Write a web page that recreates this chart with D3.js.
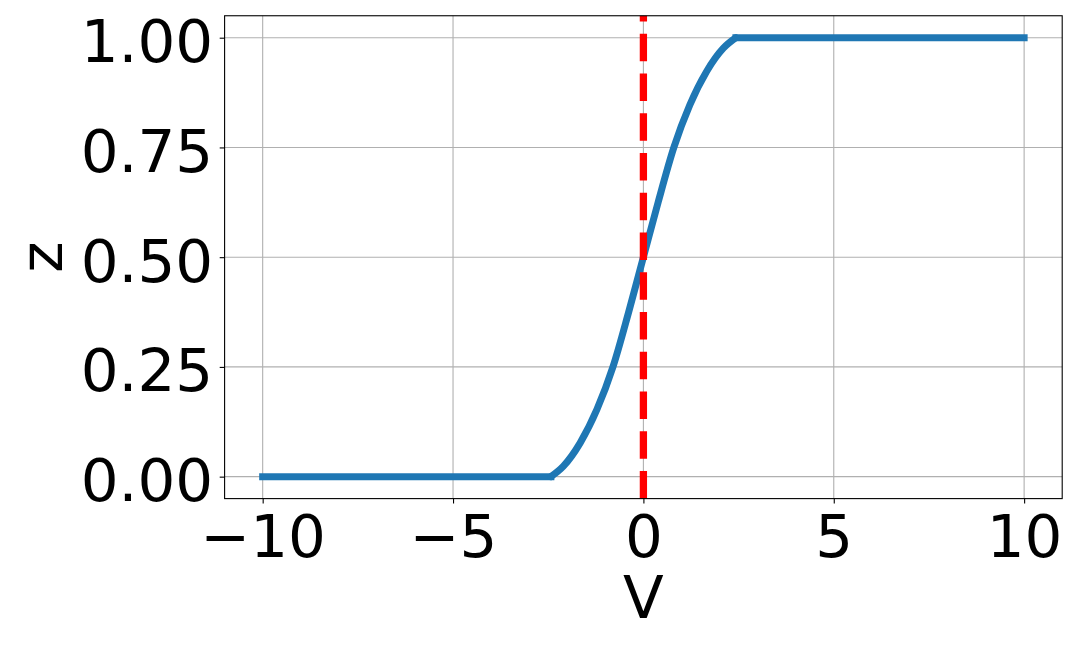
<!DOCTYPE html>
<html>
<head>
<meta charset="utf-8">
<script src="https://cdn.jsdelivr.net/npm/d3@7"></script>
<style>
  body { margin: 0; background: #fff; }
  text { font-family: "DejaVu Sans", sans-serif; fill: #000; }
</style>
</head>
<body>
<script>
// values
var vValues = [-10, -2.43, -2.1, -1.66, -1.22, -0.8, -0.39, 0, 0.39, 0.8, 1.22, 1.66, 2.1, 2.43, 10];
var zValues = [0, 0, 0.024, 0.077, 0.153, 0.25, 0.374, 0.5, 0.626, 0.75, 0.847, 0.923, 0.976, 1, 1];
var xTicks = [-10, -5, 0, 5, 10];
var yTicks = [0, 0.25, 0.5, 0.75, 1];
var vLine = 0;

var width = 1080, height = 648;
var margin = {top: 15.75, right: 17.8, bottom: 149.4, left: 224.6};
var fontSize = "59.5px";

var svg = d3.select("body").append("svg")
    .attr("width", width)
    .attr("height", height);

var x = d3.scaleLinear().domain([-11, 11]).range([margin.left, width - margin.right]);
var y = d3.scaleLinear().domain([-0.05, 1.05]).range([height - margin.bottom, margin.top]);

var fmtY = d3.format(".2f");
var fmtX = function(d) { return String(d).replace("-", "\u2212"); };

// grid
svg.append("g").selectAll("line")
  .data(xTicks).enter().append("line")
    .attr("x1", function(d) { return x(d); })
    .attr("x2", function(d) { return x(d); })
    .attr("y1", y.range()[1]).attr("y2", y.range()[0])
    .style("stroke", "#b0b0b0").style("stroke-width", 1.1);
svg.append("g").selectAll("line")
  .data(yTicks).enter().append("line")
    .attr("y1", function(d) { return y(d); })
    .attr("y2", function(d) { return y(d); })
    .attr("x1", x.range()[0]).attr("x2", x.range()[1])
    .style("stroke", "#b0b0b0").style("stroke-width", 1.1);

// curve: flat parts straight, the rising part smooth
var pts = vValues.map(function(v, i) { return [v, zValues[i]]; });
var n = pts.length;
var lineLin = d3.line()
    .x(function(d) { return x(d[0]); })
    .y(function(d) { return y(d[1]); });
var lineSmooth = d3.line()
    .x(function(d) { return x(d[0]); })
    .y(function(d) { return y(d[1]); })
    .curve(d3.curveMonotoneX);

var parts = [
  {d: lineLin(pts.slice(0, 2)), cap: "square"},
  {d: lineSmooth(pts.slice(1, n - 1)), cap: "round"},
  {d: lineLin(pts.slice(n - 2)), cap: "square"}
];
svg.append("g").selectAll("path")
  .data(parts).enter().append("path")
    .attr("d", function(p) { return p.d; })
    .style("fill", "none")
    .style("stroke", "#1f77b4")
    .style("stroke-width", 7)
    .style("stroke-linecap", function(p) { return p.cap; })
    .style("stroke-linejoin", "round");

// dashed vertical line (drawn from bottom up)
svg.append("line")
    .attr("x1", x(vLine)).attr("x2", x(vLine))
    .attr("y1", y.range()[0]).attr("y2", y.range()[1])
    .style("stroke", "#ff0000")
    .style("stroke-width", 7.3)
    .style("stroke-dasharray", "27.5,12.25");

// axes frame
svg.append("rect")
    .attr("x", x.range()[0]).attr("y", y.range()[1])
    .attr("width", x.range()[1] - x.range()[0])
    .attr("height", y.range()[0] - y.range()[1])
    .style("fill", "none").style("stroke", "#000").style("stroke-width", 1.1);

// ticks
var xAxis = d3.axisBottom(x).tickValues(xTicks).tickSize(4.9).tickPadding(4.9).tickFormat(fmtX);
var yAxis = d3.axisLeft(y).tickValues(yTicks).tickSize(4.9).tickPadding(6.5).tickFormat(fmtY);

var gx = svg.append("g")
    .attr("transform", "translate(0," + y.range()[0] + ")")
    .call(xAxis);
var gy = svg.append("g")
    .attr("transform", "translate(" + x.range()[0] + ",0)")
    .call(yAxis);

[gx, gy].forEach(function(g) {
  g.select(".domain").remove();
  g.selectAll(".tick line").style("stroke", "#000").style("stroke-width", 1.1);
  g.selectAll(".tick text")
    .style("font-family", "DejaVu Sans")
    .style("font-size", fontSize);
});
gx.selectAll(".tick text").attr("y", 58).attr("dy", null);
gy.selectAll(".tick text").attr("dy", null).attr("y", 24);

// axis labels
svg.append("text")
    .attr("x", (x.range()[0] + x.range()[1]) / 2)
    .attr("y", 618.3)
    .attr("text-anchor", "middle")
    .style("font-size", fontSize)
    .text("V");

svg.append("text")
    .attr("transform", "translate(61.7," + (y.range()[0] + y.range()[1]) / 2 + ") rotate(-90)")
    .attr("text-anchor", "middle")
    .style("font-size", fontSize)
    .text("z");
</script>
</body>
</html>
